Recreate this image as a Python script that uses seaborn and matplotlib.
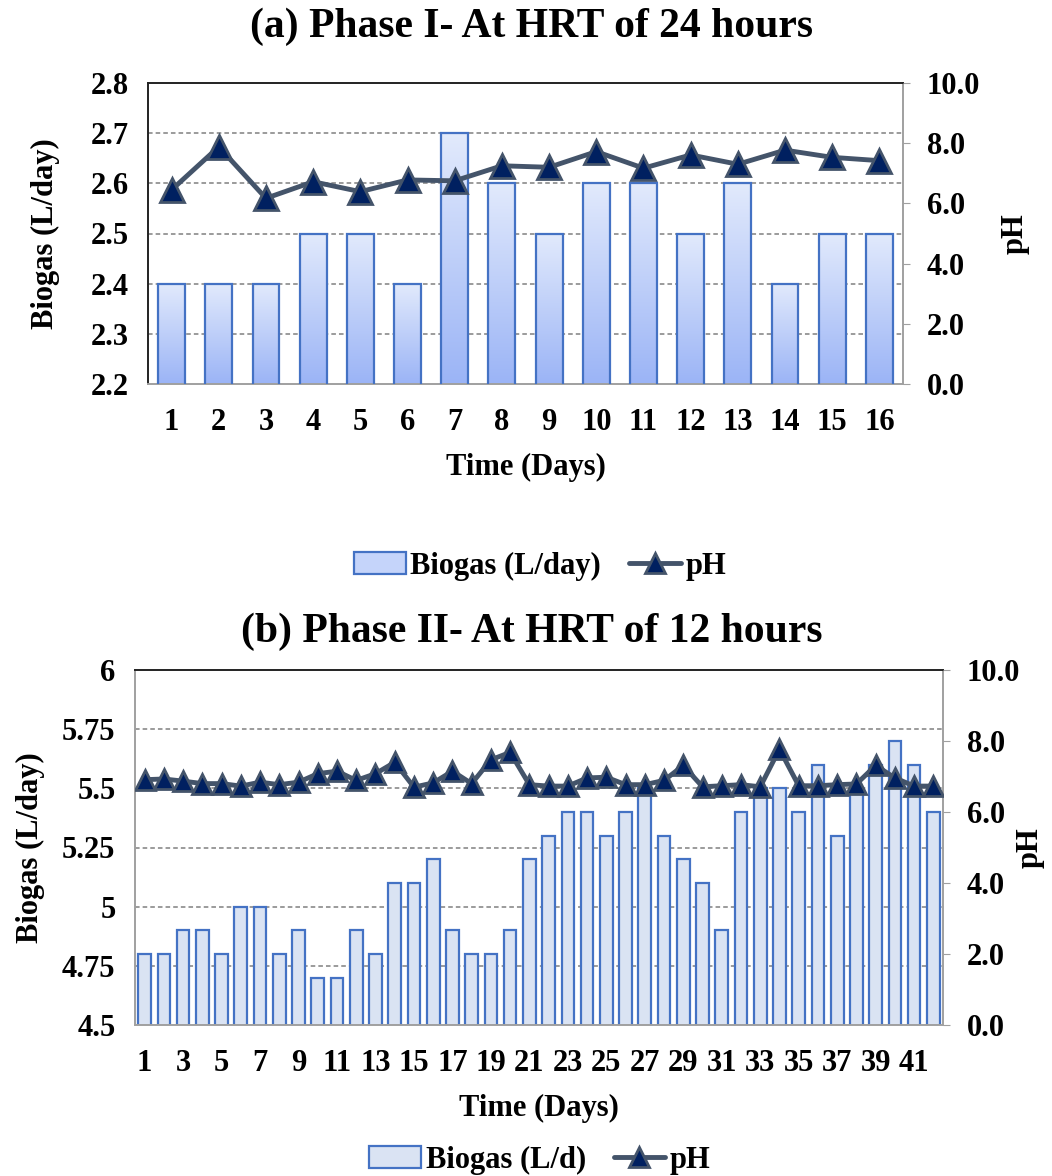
## Biogas production and pH, two phases
import numpy as np
import pandas as pd
import matplotlib
matplotlib.use("Agg")
import matplotlib.pyplot as plt
import seaborn as sns
from matplotlib.patches import Patch
from matplotlib.lines import Line2D

## Data
days_a = list(range(1, 17))
biogas_a = [2.4, 2.4, 2.4, 2.5, 2.5, 2.4, 2.7, 2.6, 2.5, 2.6, 2.6, 2.5, 2.6, 2.4, 2.5, 2.5]
ph_a = [6.45, 7.88, 6.17, 6.72, 6.39, 6.78, 6.75, 7.25, 7.20, 7.72, 7.17, 7.61, 7.30, 7.77, 7.53, 7.42]

days_b = list(range(1, 43))
biogas_b = [4.8, 4.8, 4.9, 4.9, 4.8, 5.0, 5.0, 4.8, 4.9, 4.7, 4.7, 4.9, 4.8, 5.1,
            5.1, 5.2, 4.9, 4.8, 4.8, 4.9, 5.2, 5.3, 5.4, 5.4, 5.3, 5.4, 5.5, 5.3,
            5.2, 5.1, 4.9, 5.4, 5.5, 5.5, 5.4, 5.6, 5.3, 5.5, 5.6, 5.7, 5.6, 5.4]
ph_b = [6.91, 6.93, 6.87, 6.80, 6.80, 6.73, 6.84, 6.77, 6.84, 7.08, 7.15, 6.89,
        7.08, 7.40, 6.70, 6.82, 7.15, 6.80, 7.47, 7.68, 6.77, 6.73, 6.73, 6.96,
        6.98, 6.77, 6.77, 6.89, 7.31, 6.71, 6.74, 6.77, 6.71, 7.77, 6.74, 6.74,
        6.77, 6.79, 7.31, 6.96, 6.73, 6.73]

df_a = pd.DataFrame({"day": days_a, "biogas": biogas_a, "ph": ph_a})
df_b = pd.DataFrame({"day": days_b, "biogas": biogas_b, "ph": ph_b})
df_a["pos"] = np.arange(len(df_a))
df_b["pos"] = np.arange(len(df_b))

sns.set_style("white")
plt.rcParams["font.family"] = ["Liberation Serif", "DejaVu Serif"]
plt.rcParams["font.weight"] = "bold"
plt.rcParams["text.color"] = "black"
plt.rcParams["axes.labelcolor"] = "black"

EDGE = "#4472c4"
LINE = "#44546a"
NAVY = "#002060"
FS = 22

fig = plt.figure(figsize=(10.52, 11.76), dpi=100)
W, H = 1052, 1176


def add_ax(l, t, r, b):
    return fig.add_axes([l / W, 1 - b / H, (r - l) / W, (b - t) / H])


def draw_panel(ax, df, ylim, yticks, ylabels, width, fill, gradient, xtick_step,
               title, title_y, ylab_x, ph_x, msize, left_col):
    sns.barplot(data=df, x="day", y="biogas", ax=ax, color=fill, width=width,
                edgecolor=EDGE, linewidth=1.6, saturation=1, zorder=2)
    ax.set_ylim(*ylim)
    ax.set_xlim(-0.5, len(df) - 0.5)
    if gradient:
        # vertical gradient, light at top, darker blue at bottom
        grad = np.linspace(0, 1, 256).reshape(-1, 1)
        cmap = matplotlib.colors.LinearSegmentedColormap.from_list(
            "g", ["#e2eafc", "#9bb4f6"])
        for p in list(ax.patches):
            x0, y0 = p.get_x(), p.get_y()
            w, h = p.get_width(), p.get_height()
            im = ax.imshow(grad, extent=(x0, x0 + w, ylim[0], y0 + h),
                           aspect="auto", cmap=cmap, origin="upper", zorder=2.5)
            im.set_clip_path(p)
            p.set_facecolor("none")
            p.set_zorder(3)
        ax.set_xlim(-0.5, len(df) - 0.5)
        ax.set_ylim(*ylim)
    ax.set_yticks(yticks)
    ax.set_yticklabels(ylabels)
    for y in yticks[1:-1]:
        ax.axhline(y, color="#808080", ls=(0, (3, 2)), lw=1.1, zorder=1)
    ticks = np.arange(0, len(df), xtick_step)
    ax.set_xticks(ticks)
    ax.set_xticklabels([str(d) for d in df["day"].values[::xtick_step]])
    ax.tick_params(axis="y", labelsize=FS, length=0, pad=14, labelcolor="black")
    ax.tick_params(axis="x", labelsize=FS, length=0, pad=17, labelcolor="black")
    ax.set_xlabel("Time (Days)", fontsize=FS, fontweight="bold", labelpad=12)
    ax.set_ylabel("")
    pos = ax.get_position()
    fig.text(ylab_x / W, (pos.y0 + pos.y1) / 2, "Biogas (L/day)", rotation=90,
             ha="center", va="center", fontsize=FS, fontweight="bold")
    fig.text(ph_x / W, (pos.y0 + pos.y1) / 2, "pH", rotation=90,
             ha="center", va="center", fontsize=FS, fontweight="bold")
    ax.spines["top"].set_color("#222222")
    ax.spines["left"].set_color(left_col)
    for s in ["bottom", "right"]:
        ax.spines[s].set_color("#a0a0a0")
    for s in ax.spines.values():
        s.set_linewidth(1.4)

    ax2 = ax.twinx()
    sns.lineplot(data=df, x="pos", y="ph", ax=ax2, color=LINE, lw=3.5,
                 marker="^", markersize=msize, markerfacecolor=NAVY,
                 markeredgecolor=LINE, markeredgewidth=2, zorder=5)
    ax2.set_ylim(0, 10)
    ax2.set_yticks(np.arange(0, 10.1, 2))
    ax2.set_yticklabels([f"{v:.1f}" for v in np.arange(0, 10.1, 2)])
    ax2.tick_params(axis="y", labelsize=FS, length=5, color="#a0a0a0", pad=12,
                    labelcolor="black")
    ax2.set_ylabel("")
    ax2.set_xlabel("")
    ax2.set_xlim(-0.5, len(df) - 0.5)
    for s in ax2.spines.values():
        s.set_visible(False)
    fig.text(532 / W, 1 - title_y / H, title, ha="center", va="center",
             fontsize=30, fontweight="bold")
    return ax2


ax_a = add_ax(148, 83, 903, 384)
draw_panel(ax_a, df_a, (2.2, 2.8), [2.2, 2.3, 2.4, 2.5, 2.6, 2.7, 2.8],
           ["2.2", "2.3", "2.4", "2.5", "2.6", "2.7", "2.8"], 0.57, "#c5d4fa",
           True, 1, "(a) Phase I- At HRT of 24 hours", 27, 45, 1015, 17, "#222222")

ax_b = add_ax(135, 670, 943, 1025)
draw_panel(ax_b, df_b, (4.5, 6.0), [4.5, 4.75, 5.0, 5.25, 5.5, 5.75, 6.0],
           ["4.5", "4.75", "5", "5.25", "5.5", "5.75", "6"], 0.66, "#dae3f3",
           False, 2, "(b) Phase II- At HRT of 12 hours", 632, 30, 1030, 14, "#a0a0a0")

line_h = Line2D([], [], color=LINE, lw=3.5, marker="^", markersize=14,
                markerfacecolor=NAVY, markeredgecolor=LINE, markeredgewidth=2)
leg_kw = dict(loc="center", ncol=2, frameon=False, fontsize=FS,
              handlelength=1.7, columnspacing=0.9, handletextpad=0.15)
fig.legend(handles=[Patch(facecolor="#c5d4fa", edgecolor=EDGE, lw=1.6), line_h],
           labels=["Biogas (L/day)", "pH"],
           bbox_to_anchor=(540 / W, 1 - 566 / H), **leg_kw)
fig.legend(handles=[Patch(facecolor="#dae3f3", edgecolor=EDGE, lw=1.6), line_h],
           labels=["Biogas (L/d)", "pH"],
           bbox_to_anchor=(540 / W, 1 - 1160 / H), **leg_kw)

fig.savefig("out.png", dpi=100)
